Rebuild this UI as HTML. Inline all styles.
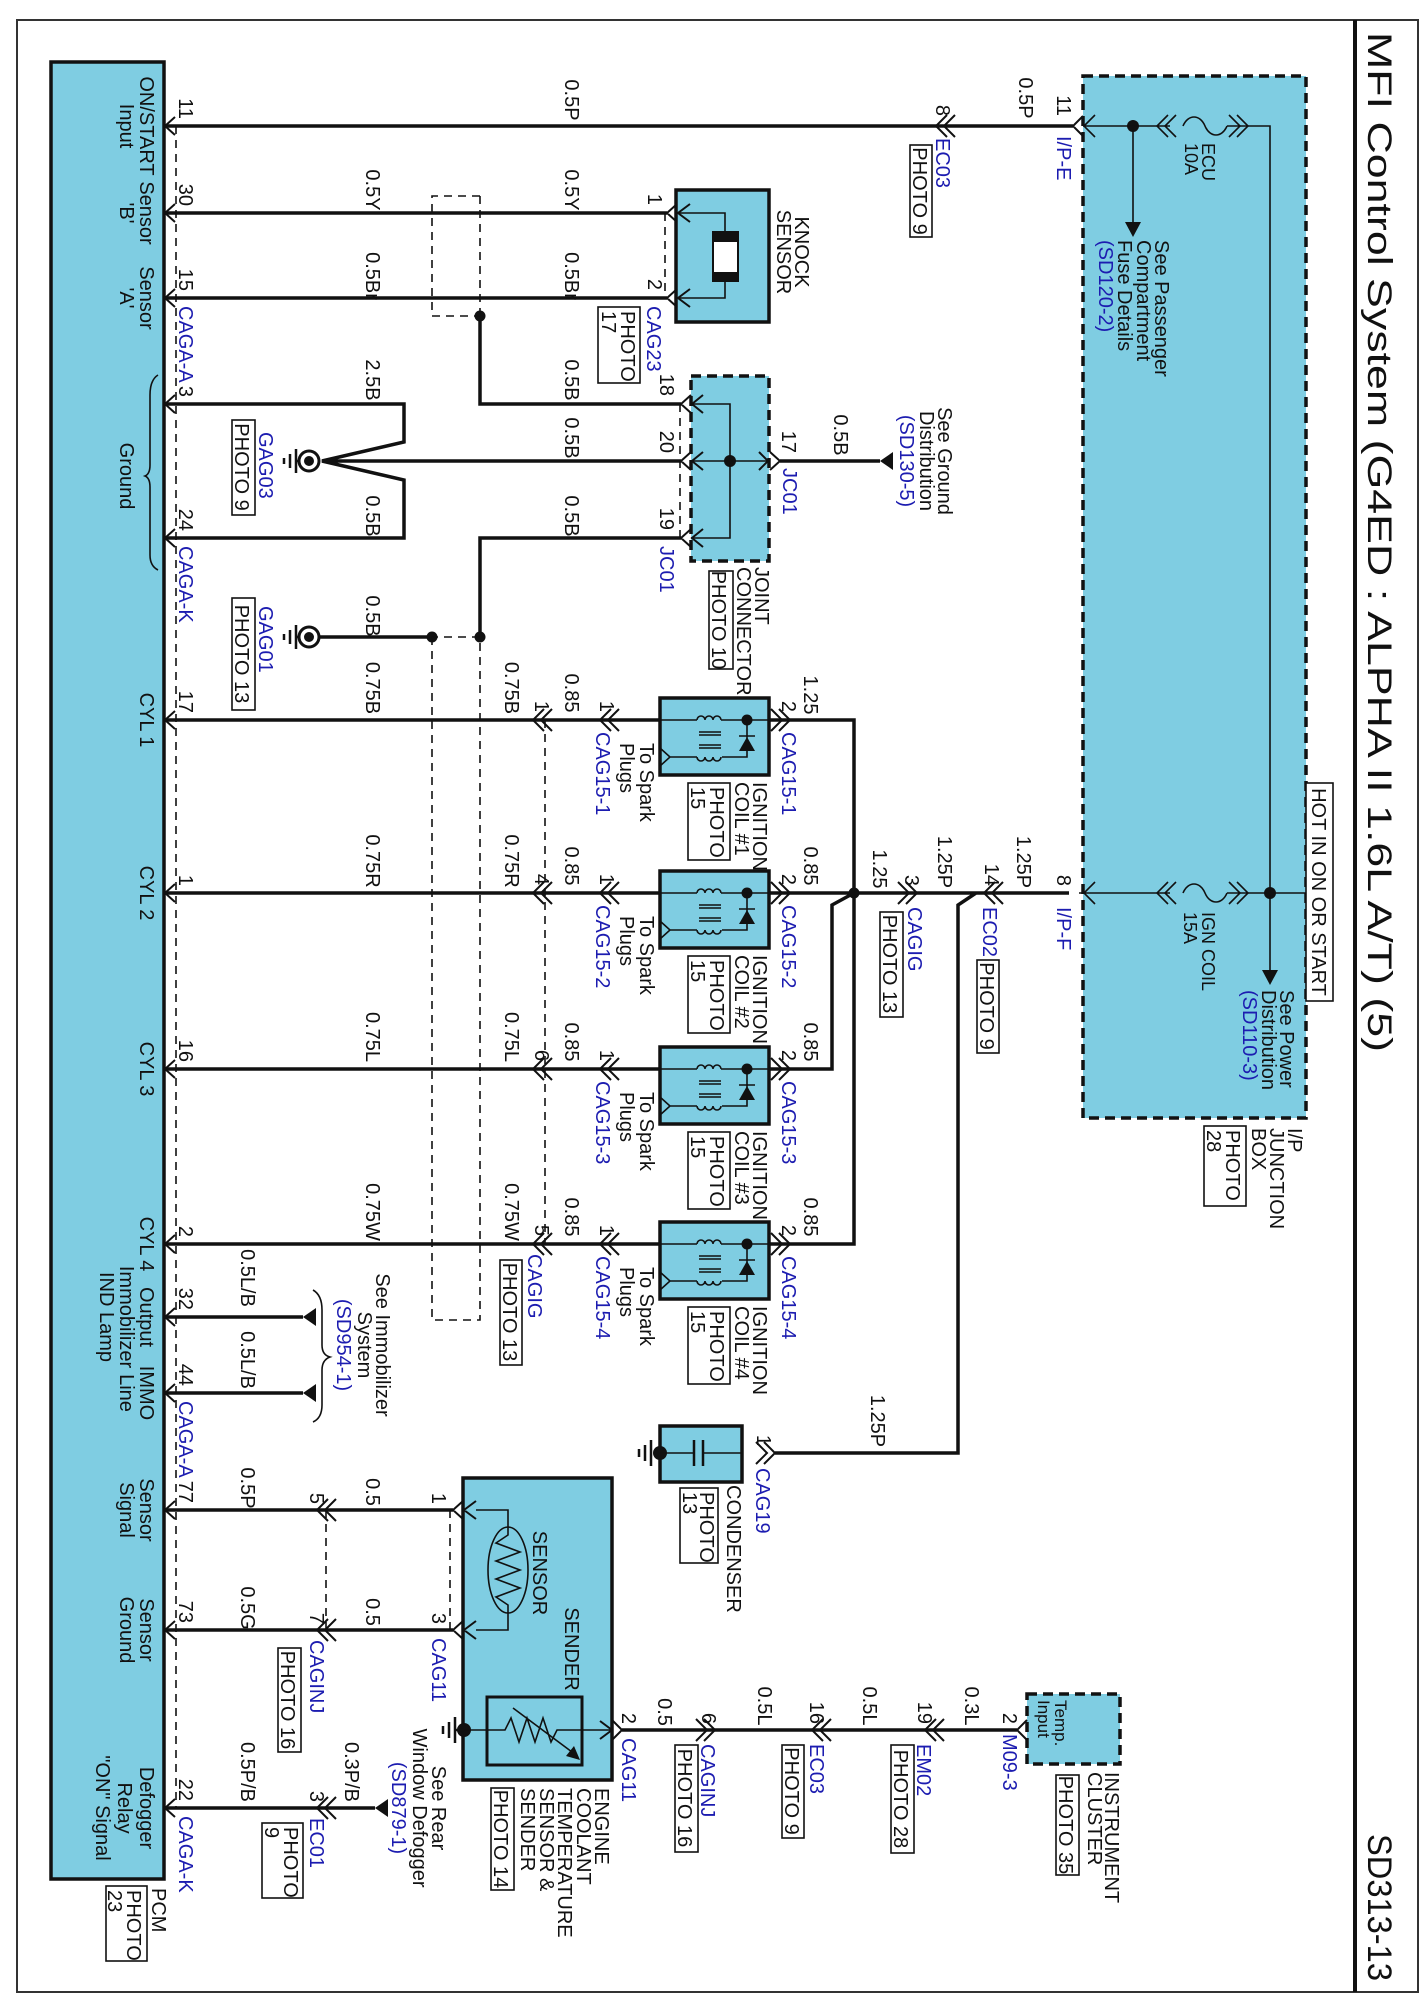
<!DOCTYPE html>
<html><head><meta charset="utf-8"><style>
html,body{margin:0;padding:0;background:#fff}
svg{display:block}
text{font-family:"Liberation Sans",Arial,sans-serif;font-size:20px;fill:#111}
.b{fill:#1c1cb0}
.w{stroke:#111;stroke-width:3.5;fill:none}
.n{stroke:#111;stroke-width:1.6;fill:none}
.d{stroke:#111;stroke-width:1.6;fill:none;stroke-dasharray:8 6}
.bx{fill:#7fcde2;stroke:#111;stroke-width:3.5}
.dbx{fill:#7fcde2;stroke:#111;stroke-width:3.5;stroke-dasharray:10 6}
.ph{fill:#fff;stroke:#111;stroke-width:1.6}
</style></head><body>
<svg width="1425" height="1998" viewBox="0 0 1425 1998" xmlns="http://www.w3.org/2000/svg">
<rect x="17" y="20" width="1401" height="1972" fill="none" stroke="#333" stroke-width="2"/>
<line x1="1355" y1="20" x2="1355" y2="1992" stroke="#111" stroke-width="4"/>
<text transform="translate(1368 32) rotate(90)" style="font-size:34px" textLength="1020" lengthAdjust="spacingAndGlyphs">MFI Control System (G4ED : ALPHA II 1.6L A/T) (5)</text>
<text transform="translate(1368 1834) rotate(90)" style="font-size:34px" textLength="147" lengthAdjust="spacingAndGlyphs">SD313-13</text>

<!-- boxes -->
<rect class="bx" x="51" y="62" width="113" height="1817"/>
<rect class="dbx" x="1083" y="76" width="223" height="1042"/>
<rect class="bx" x="676" y="190" width="93" height="132"/>
<rect class="dbx" x="691" y="376" width="78" height="185"/>
<rect class="bx" x="660" y="698" width="109" height="77"/>
<rect class="bx" x="660" y="871" width="109" height="77"/>
<rect class="bx" x="660" y="1047" width="109" height="77"/>
<rect class="bx" x="660" y="1222" width="109" height="77"/>
<rect class="bx" x="660" y="1426" width="82" height="56"/>
<rect class="bx" x="463" y="1478" width="149" height="302"/>
<rect class="dbx" x="1027" y="1694" width="93" height="70"/>
<rect x="1306" y="783" width="27" height="218" fill="#fff" stroke="#111" stroke-width="1.6"/>

<!-- thick wires -->
<path class="w" d="M165 126H1073 M165 213H667 M165 298H667 M165 404H404V442L322 461L404 480V538H165 M322 461H681 M480 316V404H681 M681 538H480V637 M432 637H320 M780 461H880
M165 720H660 M165 893H660 M165 1069H660 M165 1244H660
M769 720H854V1244H769 M769 893H1069 M769 1069H832V905L854 893 M976 893L958 905V1453H775
M165 1317H303 M165 1393H303 M165 1510H453 M165 1630H453 M622 1730H1017 M165 1808H375"/>
<!-- dots -->
<g fill="#111">
<circle cx="480" cy="316" r="5.5"/><circle cx="480" cy="637" r="5.5"/><circle cx="432" cy="637" r="5.5"/>
<circle cx="730" cy="461" r="6"/><circle cx="854" cy="893" r="5.5"/><circle cx="1133" cy="126" r="6"/><circle cx="1270" cy="893" r="6"/>
<circle cx="660" cy="1453" r="7"/><circle cx="464" cy="1730" r="7"/>
<circle cx="747" cy="720" r="5.5"/><circle cx="747" cy="893" r="5.5"/><circle cx="747" cy="1069" r="5.5"/><circle cx="747" cy="1244" r="5.5"/>
<path d="M1125 222H1141L1133 237Z M1262 970H1278L1270 985Z M880 461L893 452V470Z M303 1317L316 1308V1326Z M303 1393L316 1384V1402Z M375 1808L388 1799V1817Z"/>
</g>

<!-- junction box internals -->
<path class="n" d="M1083 126H1170 M1183 126C1188 114 1200 114 1205 126C1210 138 1222 138 1227 126 M1227 126H1270V893 M1133 126V224
M1079 893H1170 M1183 893C1188 881 1200 881 1205 893C1210 905 1222 905 1227 893 M1227 893H1306 M1270 893V972"/>
<path class="n" d="M1168 115L1157 126L1168 137M1176 115L1165 126L1176 137 M1237 115L1248 126L1237 137M1229 115L1240 126L1229 137
M1168 882L1157 893L1168 904M1176 882L1165 893L1176 904 M1237 882L1248 893L1237 904M1229 882L1240 893L1229 904
M1095 115L1084 126L1095 137 M1095 882L1084 893L1095 904"/>

<!-- connector chevrons -->
<path class="n" style="stroke-width:2" d="
M175 117L165 126L175 135 M175 204L165 213L175 222 M175 289L165 298L175 307 M175 395L165 404L175 413 M175 529L165 538L175 547
M175 711L165 720L175 729 M175 884L165 893L175 902 M175 1060L165 1069L175 1078 M175 1235L165 1244L175 1253
M175 1308L165 1317L175 1326 M175 1384L165 1393L175 1402 M175 1501L165 1510L175 1519 M175 1621L165 1630L175 1639 M175 1799L165 1808L175 1817
M947 115L936 126L947 137M955 115L944 126L955 137
M1083 116L1073 126L1083 136
M677 204L667 213L677 222 M690 204L678 213L690 222 M677 289L667 298L677 307 M690 289L678 298L690 307
M691 395L681 404L691 413 M703 395L692 404L703 413 M691 452L681 461L691 470 M703 452L692 461L703 470 M691 529L681 538L691 547 M703 529L692 538L703 547
M759 452L768 461L759 470 M770 452L780 461L770 470
M544 709L533 720L544 731M552 709L541 720L552 731 M611 709L600 720L611 731M619 709L608 720L619 731 M779 709L790 720L779 731M771 709L782 720L771 731
M544 882L533 893L544 904M552 882L541 893L552 904 M611 882L600 893L611 904M619 882L608 893L619 904 M779 882L790 893L779 904M771 882L782 893L771 904
M544 1058L533 1069L544 1080M552 1058L541 1069L552 1080 M611 1058L600 1069L611 1080M619 1058L608 1069L619 1080 M779 1058L790 1069L779 1080M771 1058L782 1069L771 1080
M544 1233L533 1244L544 1255M552 1233L541 1244L552 1255 M611 1233L600 1244L611 1255M619 1233L608 1244L619 1255 M779 1233L790 1244L779 1255M771 1233L782 1244L771 1255
M906 882L917 893L906 904M898 882L909 893L898 904 M995 882L984 893L995 904M1003 882L992 893L1003 904
M764 1442L775 1453L764 1464M756 1442L767 1453L756 1464
M328 1499L317 1510L328 1521M336 1499L325 1510L336 1521 M328 1619L317 1630L328 1641M336 1619L325 1630L336 1641
M463 1501L453 1510L463 1519 M476 1501L464 1510L476 1519 M463 1621L453 1630L463 1639 M476 1621L464 1630L476 1639
M600 1721L612 1730L600 1739 M612 1720L622 1730L612 1740
M704 1719L715 1730L704 1741M696 1719L707 1730L696 1741 M823 1719L812 1730L823 1741M831 1719L820 1730L831 1741
M936 1719L925 1730L936 1741M944 1719L933 1730L944 1741 M1027 1720L1017 1730L1027 1740
M328 1797L317 1808L328 1819M336 1797L325 1808L336 1819"/>

<!-- dashed -->
<path class="d" d="M176 126V1808 M665 213V298 M680 404V538 M480 196H432V316H480 M480 196V316 M480 637H432 M432 637V1320H480V637 M545 720V1244 M326 1510V1630 M450 1510V1630"/>

<!-- braces -->
<path class="n" d="M158 375Q150 380 150 395V465Q150 474 145 476Q150 478 150 487V555Q150 566 158 570"/>
<path class="n" d="M313 1290Q322 1295 322 1310V1345Q322 1355 330 1357Q322 1360 322 1370V1405Q322 1418 313 1422"/>

<!-- grounds -->
<g>
<circle cx="309" cy="461" r="10" fill="#fff" stroke="#111" stroke-width="3"/><circle cx="309" cy="461" r="5" fill="#111"/>
<circle cx="309" cy="637" r="10" fill="#fff" stroke="#111" stroke-width="3"/><circle cx="309" cy="637" r="5" fill="#111"/>
<path class="n" style="stroke-width:2.5" d="M296 449V473M290 454V468M284 458V464 M296 625V649M290 630V644M284 634V640 M299 461H296 M299 637H296
M651 1440V1466M645 1445V1461M639 1449V1457 M455 1717V1743M449 1722V1738M443 1726V1734 M455 1730H464"/>
</g>

<!-- knock sensor internals -->
<path class="n" d="M677 213H725V231 M725 282V298H677"/>
<rect x="712" y="231" width="27" height="51" fill="#111"/>
<rect x="714" y="242" width="23" height="30" fill="#fff"/>
<!-- JC01 internals -->
<path class="n" d="M691 404H730V538H691 M691 461H769"/>

<!-- coils -->
<g id="coil">
<path class="n" d="M660 720H697 M697 720a4 4 0 1 1 8 0a4 4 0 1 1 8 0a4 4 0 1 1 8 0 M721 720H769 M699 732H721M699 735H721 M699 745H721M699 748H721 M747 720V757H722 M721 757a4 4 0 1 1 -8 0a4 4 0 1 1 -8 0a4 4 0 1 1 -8 0 M697 757H670 M660 748L670 757L660 766 M739 736H755"/>
<path d="M747 737L739 751H755Z" fill="#111"/>
</g>
<use href="#coil" y="173"/><use href="#coil" y="349"/><use href="#coil" y="524"/>

<!-- condenser -->
<path class="n" d="M660 1453H693 M703 1453H742"/>
<path class="n" style="stroke-width:2.5" d="M694 1440V1466M703 1440V1466"/>

<!-- sender internals -->
<ellipse cx="508" cy="1570" rx="20" ry="43" fill="none" stroke="#111" stroke-width="1.6"/>
<path class="n" d="M476 1510H508V1535L496 1543L520 1552L496 1561L520 1570L496 1579L520 1588L496 1597L508 1605V1630H476"/>
<rect x="487" y="1697" width="95" height="68" fill="none" stroke="#111" stroke-width="3"/>
<path class="n" d="M464 1730H505L511 1718L519 1742L527 1718L535 1742L543 1718L551 1742L557 1730H612 M513 1708L572 1752"/>
<path d="M566 1756L580 1760L574 1746Z" fill="#111"/>

<!-- PHOTO boxes -->
<g class="ph">
<rect x="106" y="1886" width="41" height="75"/>
<rect x="910" y="145" width="22" height="92"/>
<rect x="598" y="307" width="42" height="76"/>
<rect x="232" y="420" width="23" height="95"/>
<rect x="232" y="598" width="23" height="112"/>
<rect x="709" y="571" width="24" height="98"/>
<rect x="688" y="783" width="42" height="77"/>
<rect x="688" y="956" width="42" height="77"/>
<rect x="688" y="1132" width="42" height="77"/>
<rect x="688" y="1307" width="42" height="77"/>
<rect x="500" y="1260" width="22" height="105"/>
<rect x="880" y="912" width="23" height="105"/>
<rect x="977" y="960" width="22" height="93"/>
<rect x="1204" y="1126" width="42" height="80"/>
<rect x="680" y="1488" width="38" height="75"/>
<rect x="278" y="1648" width="23" height="104"/>
<rect x="491" y="1788" width="23" height="102"/>
<rect x="262" y="1823" width="41" height="75"/>
<rect x="675" y="1745" width="23" height="107"/>
<rect x="782" y="1745" width="22" height="93"/>
<rect x="891" y="1745" width="23" height="108"/>
<rect x="1056" y="1775" width="23" height="100"/>
</g>

<!-- PCM labels -->
<g text-anchor="middle">
<text transform="translate(140 126) rotate(90)">ON/START</text><text transform="translate(120 126) rotate(90)">Input</text>
<text transform="translate(140 213) rotate(90)">Sensor</text><text transform="translate(120 213) rotate(90)">'B'</text>
<text transform="translate(140 298) rotate(90)">Sensor</text><text transform="translate(120 298) rotate(90)">'A'</text>
<text transform="translate(120 476) rotate(90)">Ground</text>
<text transform="translate(140 720) rotate(90)">CYL 1</text>
<text transform="translate(140 893) rotate(90)">CYL 2</text>
<text transform="translate(140 1069) rotate(90)">CYL 3</text>
<text transform="translate(140 1244) rotate(90)">CYL 4</text>
<text transform="translate(140 1317) rotate(90)">Output</text><text transform="translate(120 1317) rotate(90)">Immobilizer</text><text transform="translate(100 1317) rotate(90)">IND Lamp</text>
<text transform="translate(140 1393) rotate(90)">IMMO</text><text transform="translate(120 1393) rotate(90)">Line</text>
<text transform="translate(140 1510) rotate(90)">Sensor</text><text transform="translate(120 1510) rotate(90)">Signal</text>
<text transform="translate(140 1630) rotate(90)">Sensor</text><text transform="translate(120 1630) rotate(90)">Ground</text>
<text transform="translate(140 1808) rotate(90)">Defogger</text><text transform="translate(118 1808) rotate(90)">Relay</text><text transform="translate(96 1808) rotate(90)">"ON" Signal</text>

<!-- gauges -->
<text transform="translate(565 100) rotate(90)">0.5P</text><text transform="translate(1019 98) rotate(90)">0.5P</text>
<text transform="translate(366 190) rotate(90)">0.5Y</text><text transform="translate(565 190) rotate(90)">0.5Y</text>
<text transform="translate(366 276) rotate(90)">0.5Br</text><text transform="translate(565 276) rotate(90)">0.5Br</text>
<text transform="translate(366 380) rotate(90)">2.5B</text><text transform="translate(366 516) rotate(90)">0.5B</text><text transform="translate(366 616) rotate(90)">0.5B</text>
<text transform="translate(565 380) rotate(90)">0.5B</text><text transform="translate(565 438) rotate(90)">0.5B</text><text transform="translate(565 516) rotate(90)">0.5B</text>
<text transform="translate(834 435) rotate(90)">0.5B</text>
<text transform="translate(366 688) rotate(90)">0.75B</text><text transform="translate(505 688) rotate(90)">0.75B</text><text transform="translate(565 693) rotate(90)">0.85</text>
<text transform="translate(366 861) rotate(90)">0.75R</text><text transform="translate(505 861) rotate(90)">0.75R</text><text transform="translate(565 866) rotate(90)">0.85</text>
<text transform="translate(366 1037) rotate(90)">0.75L</text><text transform="translate(505 1037) rotate(90)">0.75L</text><text transform="translate(565 1042) rotate(90)">0.85</text>
<text transform="translate(366 1212) rotate(90)">0.75W</text><text transform="translate(505 1212) rotate(90)">0.75W</text><text transform="translate(565 1217) rotate(90)">0.85</text>
<text transform="translate(804 695) rotate(90)">1.25</text><text transform="translate(804 866) rotate(90)">0.85</text><text transform="translate(804 1042) rotate(90)">0.85</text><text transform="translate(804 1217) rotate(90)">0.85</text>
<text transform="translate(873 869) rotate(90)">1.25</text><text transform="translate(938 862) rotate(90)">1.25P</text><text transform="translate(1017 862) rotate(90)">1.25P</text>
<text transform="translate(871 1421) rotate(90)">1.25P</text>
<text transform="translate(241 1278) rotate(90)">0.5L/B</text><text transform="translate(241 1360) rotate(90)">0.5L/B</text>
<text transform="translate(241 1488) rotate(90)">0.5P</text><text transform="translate(241 1608) rotate(90)">0.5G</text>
<text transform="translate(366 1492) rotate(90)">0.5</text><text transform="translate(366 1612) rotate(90)">0.5</text>
<text transform="translate(241 1772) rotate(90)">0.5P/B</text><text transform="translate(345 1772) rotate(90)">0.3P/B</text>
<text transform="translate(658 1712) rotate(90)">0.5</text><text transform="translate(758 1706) rotate(90)">0.5L</text><text transform="translate(863 1706) rotate(90)">0.5L</text><text transform="translate(965 1706) rotate(90)">0.3L</text>

<!-- multi-line centered labels -->
<text transform="translate(795 252) rotate(90)">KNOCK</text><text transform="translate(777 252) rotate(90)">SENSOR</text>
<text transform="translate(938 461) rotate(90)">See Ground</text><text transform="translate(920 461) rotate(90)">Distribution</text><text class="b" transform="translate(900 461) rotate(90)">(SD130-5)</text>
<text transform="translate(1312 892) rotate(90)">HOT IN ON OR START</text>
<text transform="translate(376 1345) rotate(90)">See Immobilizer</text><text transform="translate(358 1345) rotate(90)">System</text><text class="b" transform="translate(337 1345) rotate(90)">(SD954-1)</text>
<text transform="translate(533 1573) rotate(90)">SENSOR</text><text transform="translate(565 1649) rotate(90)">SENDER</text>
<text transform="translate(432 1808) rotate(90)">See Rear</text><text transform="translate(413 1808) rotate(90)">Window Defogger</text><text class="b" transform="translate(392 1808) rotate(90)">(SD879-1)</text>
<!-- single-line photo texts -->
<text transform="translate(913 191) rotate(90)">PHOTO 9</text>
<text transform="translate(235 467) rotate(90)">PHOTO 9</text>
<text transform="translate(235 654) rotate(90)">PHOTO 13</text>
<text transform="translate(712 620) rotate(90)">PHOTO 10</text>
<text transform="translate(503 1312) rotate(90)">PHOTO 13</text>
<text transform="translate(883 964) rotate(90)">PHOTO 13</text>
<text transform="translate(980 1006) rotate(90)">PHOTO 9</text>
<text transform="translate(281 1700) rotate(90)">PHOTO 16</text>
<text transform="translate(494 1839) rotate(90)">PHOTO 14</text>
<text transform="translate(678 1798) rotate(90)">PHOTO 16</text>
<text transform="translate(785 1791) rotate(90)">PHOTO 9</text>
<text transform="translate(894 1799) rotate(90)">PHOTO 28</text>
<text transform="translate(1059 1825) rotate(90)">PHOTO 35</text>
</g>

<!-- pin numbers -->
<g text-anchor="end">
<text transform="translate(179 119) rotate(90)">11</text><text transform="translate(179 206) rotate(90)">30</text><text transform="translate(179 291) rotate(90)">15</text>
<text transform="translate(179 397) rotate(90)">3</text><text transform="translate(179 531) rotate(90)">24</text><text transform="translate(179 713) rotate(90)">17</text>
<text transform="translate(179 886) rotate(90)">1</text><text transform="translate(179 1062) rotate(90)">16</text><text transform="translate(179 1237) rotate(90)">2</text>
<text transform="translate(179 1310) rotate(90)">32</text><text transform="translate(179 1386) rotate(90)">44</text><text transform="translate(179 1503) rotate(90)">77</text>
<text transform="translate(179 1623) rotate(90)">73</text><text transform="translate(179 1801) rotate(90)">22</text>
<text transform="translate(936 116) rotate(90)">8</text><text transform="translate(1057 116) rotate(90)">11</text>
<text transform="translate(648 205) rotate(90)">1</text><text transform="translate(648 290) rotate(90)">2</text>
<text transform="translate(660 396) rotate(90)">18</text><text transform="translate(660 453) rotate(90)">20</text><text transform="translate(660 530) rotate(90)">19</text>
<text transform="translate(782 453) rotate(90)">17</text>
<text transform="translate(535 712) rotate(90)">1</text><text transform="translate(600 712) rotate(90)">1</text><text transform="translate(782 712) rotate(90)">2</text>
<text transform="translate(535 885) rotate(90)">4</text><text transform="translate(600 885) rotate(90)">1</text><text transform="translate(782 885) rotate(90)">2</text>
<text transform="translate(535 1061) rotate(90)">6</text><text transform="translate(600 1061) rotate(90)">1</text><text transform="translate(782 1061) rotate(90)">2</text>
<text transform="translate(535 1236) rotate(90)">5</text><text transform="translate(600 1236) rotate(90)">1</text><text transform="translate(782 1236) rotate(90)">2</text>
<text transform="translate(905 886) rotate(90)">3</text><text transform="translate(985 886) rotate(90)">14</text><text transform="translate(1057 886) rotate(90)">8</text>
<text transform="translate(757 1446) rotate(90)">1</text>
<text transform="translate(310 1504) rotate(90)">5</text><text transform="translate(310 1624) rotate(90)">7</text>
<text transform="translate(432 1504) rotate(90)">1</text><text transform="translate(432 1624) rotate(90)">3</text>
<text transform="translate(622 1724) rotate(90)">2</text><text transform="translate(702 1724) rotate(90)">6</text><text transform="translate(810 1724) rotate(90)">16</text>
<text transform="translate(918 1724) rotate(90)">19</text><text transform="translate(1003 1724) rotate(90)">2</text>
<text transform="translate(310 1802) rotate(90)">3</text>
</g>

<!-- start-anchored labels -->
<g>
<text class="b" transform="translate(179 306) rotate(90)">CAGA-A</text>
<text class="b" transform="translate(179 546) rotate(90)">CAGA-K</text>
<text class="b" transform="translate(179 1401) rotate(90)">CAGA-A</text>
<text class="b" transform="translate(179 1816) rotate(90)">CAGA-K</text>
<text transform="translate(152 1888) rotate(90)">PCM</text>
<text transform="translate(127 1890) rotate(90)">PHOTO</text><text transform="translate(108 1890) rotate(90)">23</text>
<text class="b" transform="translate(936 138) rotate(90)">EC03</text>
<text class="b" transform="translate(1057 136) rotate(90)">I/P-E</text>
<text transform="translate(1202 143) rotate(90)" style="font-size:18px">ECU</text><text transform="translate(1185 143) rotate(90)" style="font-size:18px">10A</text>
<text transform="translate(1155 240) rotate(90)">See Passenger</text><text transform="translate(1137 240) rotate(90)">Compartment</text><text transform="translate(1118 240) rotate(90)">Fuse Details</text><text class="b" transform="translate(1099 240) rotate(90)">(SD120-2)</text>
<text class="b" transform="translate(647 306) rotate(90)">CAG23</text>
<text transform="translate(621 311) rotate(90)">PHOTO</text><text transform="translate(602 311) rotate(90)">17</text>
<text class="b" transform="translate(259 432) rotate(90)">GAG03</text>
<text class="b" transform="translate(259 606) rotate(90)">GAG01</text>
<text class="b" transform="translate(783 468) rotate(90)">JC01</text>
<text class="b" transform="translate(660 546) rotate(90)">JC01</text>
<text transform="translate(755 567) rotate(90)">JOINT</text><text transform="translate(737 567) rotate(90)">CONNECTOR</text>

<text class="b" transform="translate(596 732) rotate(90)">CAG15-1</text><text class="b" transform="translate(782 732) rotate(90)">CAG15-1</text>
<text transform="translate(640 743) rotate(90)">To Spark</text><text transform="translate(620 743) rotate(90)">Plugs</text>
<text transform="translate(753 782) rotate(90)">IGNITION</text><text transform="translate(735 782) rotate(90)">COIL #1</text>
<text transform="translate(710 787) rotate(90)">PHOTO</text><text transform="translate(691 787) rotate(90)">15</text>

<text class="b" transform="translate(596 905) rotate(90)">CAG15-2</text><text class="b" transform="translate(782 905) rotate(90)">CAG15-2</text>
<text transform="translate(640 916) rotate(90)">To Spark</text><text transform="translate(620 916) rotate(90)">Plugs</text>
<text transform="translate(753 955) rotate(90)">IGNITION</text><text transform="translate(735 955) rotate(90)">COIL #2</text>
<text transform="translate(710 960) rotate(90)">PHOTO</text><text transform="translate(691 960) rotate(90)">15</text>

<text class="b" transform="translate(596 1081) rotate(90)">CAG15-3</text><text class="b" transform="translate(782 1081) rotate(90)">CAG15-3</text>
<text transform="translate(640 1092) rotate(90)">To Spark</text><text transform="translate(620 1092) rotate(90)">Plugs</text>
<text transform="translate(753 1131) rotate(90)">IGNITION</text><text transform="translate(735 1131) rotate(90)">COIL #3</text>
<text transform="translate(710 1136) rotate(90)">PHOTO</text><text transform="translate(691 1136) rotate(90)">15</text>

<text class="b" transform="translate(596 1256) rotate(90)">CAG15-4</text><text class="b" transform="translate(782 1256) rotate(90)">CAG15-4</text>
<text transform="translate(640 1267) rotate(90)">To Spark</text><text transform="translate(620 1267) rotate(90)">Plugs</text>
<text transform="translate(753 1306) rotate(90)">IGNITION</text><text transform="translate(735 1306) rotate(90)">COIL #4</text>
<text transform="translate(710 1311) rotate(90)">PHOTO</text><text transform="translate(691 1311) rotate(90)">15</text>

<text class="b" transform="translate(528 1254) rotate(90)">CAGIG</text>
<text class="b" transform="translate(908 907) rotate(90)">CAGIG</text>
<text class="b" transform="translate(983 907) rotate(90)">EC02</text>
<text class="b" transform="translate(1057 907) rotate(90)">I/P-F</text>
<text transform="translate(1202 912) rotate(90)" style="font-size:18px">IGN COIL</text><text transform="translate(1184 912) rotate(90)" style="font-size:18px">15A</text>
<text transform="translate(1280 990) rotate(90)">See Power</text><text transform="translate(1262 990) rotate(90)">Distribution</text><text class="b" transform="translate(1243 990) rotate(90)">(SD110-3)</text>
<text transform="translate(1288 1128) rotate(90)">I/P</text><text transform="translate(1270 1128) rotate(90)">JUNCTION</text><text transform="translate(1252 1128) rotate(90)">BOX</text>
<text transform="translate(1226 1130) rotate(90)">PHOTO</text><text transform="translate(1207 1130) rotate(90)">28</text>

<text class="b" transform="translate(756 1468) rotate(90)">CAG19</text>
<text transform="translate(727 1485) rotate(90)">CONDENSER</text>
<text transform="translate(700 1492) rotate(90)">PHOTO</text><text transform="translate(683 1492) rotate(90)">13</text>

<text class="b" transform="translate(310 1640) rotate(90)">CAGINJ</text>
<text class="b" transform="translate(432 1638) rotate(90)">CAG11</text>
<text class="b" transform="translate(622 1738) rotate(90)">CAG11</text>
<text class="b" transform="translate(701 1744) rotate(90)">CAGINJ</text>
<text class="b" transform="translate(810 1744) rotate(90)">EC03</text>
<text class="b" transform="translate(917 1744) rotate(90)">EM02</text>
<text class="b" transform="translate(1003 1734) rotate(90)">M09-3</text>
<text class="b" transform="translate(310 1818) rotate(90)">EC01</text>
<text transform="translate(284 1827) rotate(90)">PHOTO</text><text transform="translate(265 1827) rotate(90)">9</text>
<text transform="translate(595 1788) rotate(90)">ENGINE</text><text transform="translate(577 1788) rotate(90)">COOLANT</text><text transform="translate(558 1788) rotate(90)">TEMPERATURE</text><text transform="translate(540 1788) rotate(90)">SENSOR &amp;</text><text transform="translate(521 1788) rotate(90)">SENDER</text>
<text transform="translate(1055 1700) rotate(90)" style="font-size:17px">Temp.</text><text transform="translate(1038 1700) rotate(90)" style="font-size:17px">Input</text>
<text transform="translate(1105 1772) rotate(90)">INSTRUMENT</text><text transform="translate(1088 1772) rotate(90)">CLUSTER</text>
</g>
</svg>
</body></html>
